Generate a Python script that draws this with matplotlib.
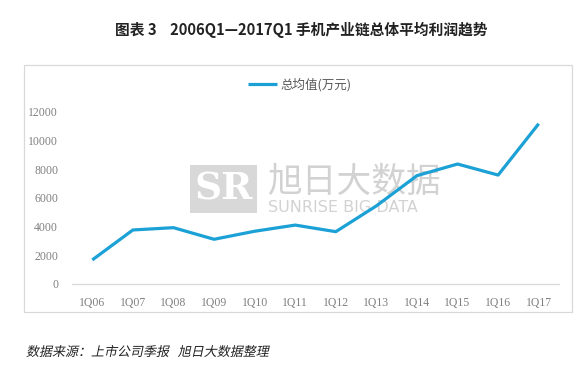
import matplotlib.pyplot as plt
from matplotlib.patches import Rectangle, PathPatch
from matplotlib.textpath import TextPath
from matplotlib.font_manager import FontProperties
from matplotlib.transforms import Affine2D, IdentityTransform

plt.rcParams['font.family'] = ['Noto Sans CJK SC', 'DejaVu Sans']

# ---------------------------------------------------------
# Datos
# ---------------------------------------------------------
quarters = ["1Q06", "1Q07", "1Q08", "1Q09", "1Q10", "1Q11",
            "1Q12", "1Q13", "1Q14", "1Q15", "1Q16", "1Q17"]
avg_profit = [1680, 3770, 3930, 3120, 3680, 4110,
              3650, 5450, 7560, 8370, 7600, 11180]
y_ticks = [0, 2000, 4000, 6000, 8000, 10000, 12000]

title = "图表 3    2006Q1—2017Q1 手机产业链总体平均利润趋势"
legend_label = "总均值(万元)"
source = "数据来源：上市公司季报   旭日大数据整理"

line_color = "#1ba1d6"
gray = "#808080"
W, H = 588, 370

fig = plt.figure(figsize=(5.88, 3.70), dpi=100)

# marco del gráfico
fig.patches.append(Rectangle((24 / W, 1 - 312 / H), 548 / W, 247 / H,
                             transform=fig.transFigure, fill=False,
                             edgecolor="#d9d9d9", linewidth=0.9))

# marca de agua
fig.text(267 / W, 1 - 182 / H, "旭日大数据", fontsize=25, fontweight="medium",
         color="#d2d2d2", va="center", ha="left", zorder=0)
fig.text(268 / W, 1 - 208 / H, "SUNRISE BIG DATA", fontsize=11.5,
         color="#d2d2d2", va="center", ha="left", zorder=0,
         family=["DejaVu Sans"])
fig.patches.append(Rectangle((190 / W, 1 - 213 / H), 67 / W, 48 / H,
                             transform=fig.transFigure, facecolor="#d8d8d8",
                             edgecolor="none", zorder=0))
fig.text(223.5 / W, 1 - 189 / H, "SR", fontsize=27, fontweight="bold",
         color="white", va="center", ha="center", family=["DejaVu Serif"],
         zorder=0.5)

ax = fig.add_axes([72 / W, 1 - 284 / H, 487 / W, 172 / H])
ax.set_zorder(2)
ax.patch.set_alpha(0)
x = range(len(quarters))
ax.plot(x, avg_profit, color=line_color, linewidth=2.3,
        solid_capstyle="butt", label=legend_label)

ax.set_xlim(-0.5, len(quarters) - 0.5)
ax.set_ylim(0, 12000)
ax.set_xticks(list(x))
ax.set_xticklabels(quarters)
ax.set_yticks(y_ticks)
ax.set_yticklabels([str(v) for v in y_ticks])
for lbl in ax.get_xticklabels() + ax.get_yticklabels():
    lbl.set_family(["Liberation Serif"])
    lbl.set_fontsize(8.5)
    lbl.set_color(gray)
ax.tick_params(length=0, pad=9)
ax.tick_params(axis="y", pad=10)

for s in ["top", "right", "left"]:
    ax.spines[s].set_visible(False)
ax.spines["bottom"].set_color("#d9d9d9")
ax.spines["bottom"].set_linewidth(0.9)

ax.legend(loc="center", bbox_to_anchor=(300 / W, 1 - 85 / H),
          bbox_transform=fig.transFigure, frameon=False, fontsize=9,
          handlelength=2.3, handletextpad=0.3, labelcolor="#595959")

fig.text(301 / W, 1 - 30 / H, title, fontsize=10.6, fontweight="bold",
         ha="center", va="center", color="#222222")

# fuente en cursiva (inclinación manual, la fuente CJK no tiene cursiva)
tp = TextPath((0, 0), source, size=13, prop=FontProperties(family="Noto Sans CJK SC"))
tr = Affine2D().skew_deg(12, 0).translate(26, H - 356)
fig.patches.append(PathPatch(tp, transform=tr + IdentityTransform(),
                             facecolor="#222222", edgecolor="none"))

fig.savefig("out.png", dpi=100)
